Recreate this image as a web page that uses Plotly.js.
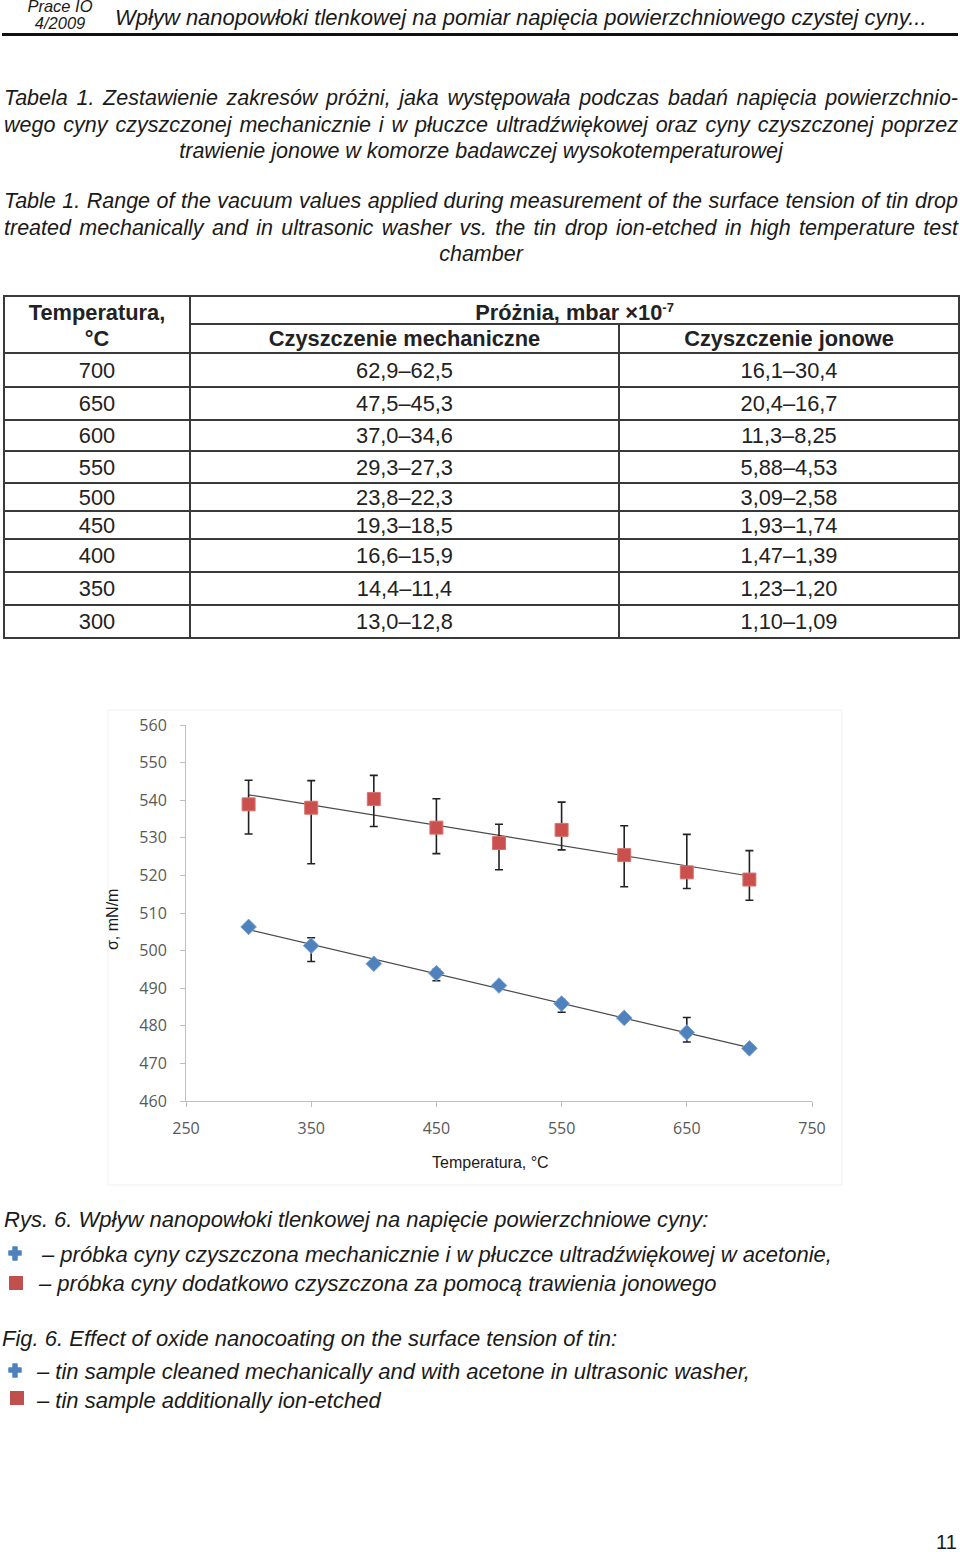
<!DOCTYPE html>
<html><head><meta charset="utf-8">
<script src="https://cdn.plot.ly/plotly-3.0.1.min.js"></script>
<style>
body{margin:0;background:#fff;width:960px;height:1552px;position:relative;overflow:hidden;font-family:"Liberation Sans",Arial,sans-serif;color:#1a1a1a}
.abs{position:absolute}
.cond{font-family:"Liberation Sans Narrow","Arial Narrow","Liberation Sans",sans-serif;font-style:italic}
.para{left:4px;width:954px;font-size:21.5px;line-height:26.5px;text-align:justify;text-align-last:center}
table{border-collapse:collapse;position:absolute;left:3px;top:295px;font-size:21.8px;color:#222}
td{border:2px solid #3a3a3a;text-align:center;padding:0;line-height:21px}
.cap{font-style:italic;font-size:22px;white-space:nowrap}
</style></head><body>
<div class="abs cond" style="left:20px;top:-2px;width:80px;text-align:center;font-size:16.5px;line-height:16.5px">Prace IO<br>4/2009</div>
<div class="abs cond" style="left:115px;top:5px;font-size:22px;white-space:nowrap">Wpływ nanopowłoki tlenkowej na pomiar napięcia powierzchniowego czystej cyny...</div>
<div class="abs" style="left:2px;top:33px;width:956px;height:3px;background:#111"></div>

<div class="abs cond para" style="top:85px">Tabela 1. Zestawienie zakresów próżni, jaka występowała podczas badań napięcia powierzchnio-wego cyny czyszczonej mechanicznie i w płuczce ultradźwiękowej oraz cyny czyszczonej poprzez trawienie jonowe w komorze badawczej wysokotemperaturowej</div>
<div class="abs cond para" style="top:188px">Table 1. Range of the vacuum values applied during measurement of the surface tension of tin drop treated mechanically and in ultrasonic washer vs. the tin drop ion-etched in high temperature test chamber</div>

<table id="tbl"></table>

<div id="chart" class="abs" style="left:0;top:690px;width:960px;height:510px"></div>

<div class="abs cap" style="left:4px;top:1207px">Rys. 6. Wpływ nanopowłoki tlenkowej na napięcie powierzchniowe cyny:</div>
<svg class="abs" style="left:8px;top:1246px" width="16" height="16"><path d="M5,1h4v4h4v4h-4v5h-4v-5h-4v-4h4z" fill="#4f81bd" stroke="#4f81bd" stroke-linejoin="round" stroke-width="1.5"/></svg>
<div class="abs cap" style="left:42px;top:1242px">– próbka cyny czyszczona mechanicznie i w płuczce ultradźwiękowej w acetonie,</div>
<div class="abs" style="left:9px;top:1276px;width:14px;height:14px;background:#c0504d"></div>
<div class="abs cap" style="left:39px;top:1271px">– próbka cyny dodatkowo czyszczona za pomocą trawienia jonowego</div>

<div class="abs cap" style="left:2px;top:1326px">Fig. 6. Effect of oxide nanocoating on the surface tension of tin:</div>
<svg class="abs" style="left:8px;top:1363px" width="16" height="16"><path d="M5,1h4v4h4v4h-4v5h-4v-5h-4v-4h4z" fill="#4f81bd" stroke="#4f81bd" stroke-linejoin="round" stroke-width="1.5"/></svg>
<div class="abs cap" style="left:37px;top:1359px">– tin sample cleaned mechanically and with acetone in ultrasonic washer,</div>
<div class="abs" style="left:10px;top:1391px;width:14px;height:14px;background:#c0504d"></div>
<div class="abs cap" style="left:37px;top:1388px">– tin sample additionally ion-etched</div>

<div class="abs" style="left:936px;top:1531px;font-size:20px">11</div>

<script>
// ---- table data ----
const tableTemps = ['700','650','600','550','500','450','400','350','300'];
const mechRanges = ['62,9–62,5','47,5–45,3','37,0–34,6','29,3–27,3','23,8–22,3','19,3–18,5','16,6–15,9','14,4–11,4','13,0–12,8'];
const ionRanges  = ['16,1–30,4','20,4–16,7','11,3–8,25','5,88–4,53','3,09–2,58','1,93–1,74','1,47–1,39','1,23–1,20','1,10–1,09'];

// ---- chart data ----
const temps = [300,350,400,450,500,550,600,650,700];
const ionEtched    = [538.9,538.0,540.3,532.7,528.6,532.1,525.4,520.8,518.9];
const ionErrPlus   = [6.4,7.2,6.3,7.7,5.0,7.4,7.8,10.1,7.7];
const ionErrMinus  = [7.9,14.9,7.3,6.9,7.1,5.3,8.4,4.3,5.5];
const mechanical   = [506.3,501.3,496.5,494.0,490.7,485.9,482.1,478.2,474.0];
const mechErrPlus  = [0.6,2.1,0.5,1.0,0.5,1.1,0.8,4.0,0.4];
const mechErrMinus = [0.6,4.2,0.5,2.0,0.5,2.3,0.8,2.5,0.4];
const yTicks = [460,470,480,490,500,510,520,530,540,550,560];
const xTicks = [250,350,450,550,650,750];

// build table
const rowHeights = [34,33,31,32,28,28,33,33,33];
const tbl = document.getElementById('tbl');
let html = '<colgroup><col style="width:186px"><col style="width:429px"><col style="width:340px"></colgroup>';
html += '<tr style="height:28px"><td rowspan="2" style="font-weight:bold;line-height:26px;padding-top:2px">Temperatura,<br>°C</td><td colspan="2" style="font-weight:bold">Próżnia, mbar ×10<sup style="font-size:13px">-7</sup></td></tr>';
html += '<tr style="height:29px"><td style="font-weight:bold">Czyszczenie mechaniczne</td><td style="font-weight:bold">Czyszczenie jonowe</td></tr>';
tableTemps.forEach((t,i)=>{
  html += `<tr style="height:${rowHeights[i]}px"><td>${t}</td><td>${mechRanges[i]}</td><td>${ionRanges[i]}</td></tr>`;
});
tbl.innerHTML = html;

// linear regression for trendlines
function fit(xs, ys){
  const n=xs.length, mx=xs.reduce((a,b)=>a+b)/n, my=ys.reduce((a,b)=>a+b)/n;
  let sxy=0,sxx=0; xs.forEach((x,i)=>{sxy+=(x-mx)*(ys[i]-my);sxx+=(x-mx)*(x-mx);});
  const b=sxy/sxx, a=my-b*mx;
  const x0=Math.min(...xs), x1=Math.max(...xs);
  return {x:[x0,x1], y:[a+b*x0,a+b*x1]};
}
const fr = fit(temps, ionEtched), fb = fit(temps, mechanical);

const traces = [
  {x:fr.x,y:fr.y,mode:'lines',line:{color:'#4a4a4a',width:1.2},hoverinfo:'skip'},
  {x:fb.x,y:fb.y,mode:'lines',line:{color:'#4a4a4a',width:1.2},hoverinfo:'skip'},
  {x:temps,y:ionEtched,mode:'markers',marker:{symbol:'square',size:13,color:'#c9504d',line:{color:'#d9736f',width:1}},
   error_y:{type:'data',symmetric:false,array:ionErrPlus,arrayminus:ionErrMinus,color:'#222',thickness:1.6,width:4}},
  {x:temps,y:mechanical,mode:'markers',marker:{symbol:'diamond',size:12,color:'#4f81bd',line:{color:'#7aa0cf',width:1}},
   error_y:{type:'data',symmetric:false,array:mechErrPlus,arrayminus:mechErrMinus,color:'#222',thickness:1.6,width:4}}
];
const layout = {
  width:960,height:510,
  margin:{l:186,r:148,t:35,b:99},
  paper_bgcolor:'rgba(0,0,0,0)',plot_bgcolor:'#fff',
  showlegend:false,
  font:{family:'"Open Sans","Liberation Sans",sans-serif',color:'#595959',size:16},
  xaxis:{range:[250,750],tickvals:xTicks,showgrid:false,zeroline:false,showline:true,linecolor:'#bfbfbf',linewidth:1,
    ticks:'outside',ticklen:5,tickcolor:'#bfbfbf',ticklabelstandoff:8,tickfont:{size:16,color:'#595959'}},
  yaxis:{range:[460,560],tickvals:yTicks,showgrid:false,zeroline:false,showline:true,linecolor:'#bfbfbf',linewidth:1,
    ticks:'outside',ticklen:5,tickcolor:'#bfbfbf',ticklabelstandoff:10,tickfont:{size:16,color:'#595959'}},
  annotations:[
    {xref:'paper',yref:'paper',x:(490-186)/626,y:-(1163-1101)/376,text:'Temperatura, °C',showarrow:false,
     font:{family:'"Liberation Sans",Arial,sans-serif',size:16,color:'#1a1a1a'},xanchor:'center',yanchor:'middle'},
    {xref:'paper',yref:'paper',x:-(186-113)/626,y:(1101-920)/376,text:'σ, mN/m',textangle:-90,showarrow:false,
     font:{family:'"Liberation Sans",Arial,sans-serif',size:16,color:'#1a1a1a'},xanchor:'center',yanchor:'middle'}
  ],
  shapes:[{type:'rect',xref:'paper',yref:'paper',x0:-(186-108)/626,x1:(842-186)/626,y0:-(1185-1101)/376,y1:(1101-710)/376,
    line:{color:'#f0f0f0',width:1},fillcolor:'rgba(0,0,0,0)',layer:'below'}]
};
Plotly.newPlot('chart',traces,layout,{staticPlot:true,displayModeBar:false});
</script>
</body></html>
